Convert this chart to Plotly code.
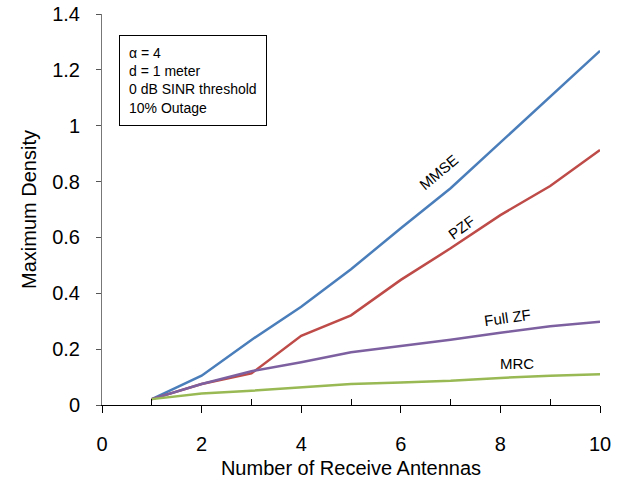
import plotly.graph_objects as go

antennas = [1, 2, 3, 4, 5, 6, 7, 8, 9, 10]
mmse = [0.021, 0.105, 0.233, 0.352, 0.486, 0.633, 0.776, 0.939, 1.104, 1.268]
pzf = [0.021, 0.075, 0.113, 0.248, 0.321, 0.448, 0.561, 0.680, 0.784, 0.913]
full_zf = [0.021, 0.075, 0.121, 0.153, 0.189, 0.211, 0.234, 0.259, 0.282, 0.298]
mrc = [0.021, 0.041, 0.051, 0.064, 0.075, 0.081, 0.087, 0.097, 0.105, 0.110]

series_names = ["MMSE", "PZF", "Full ZF", "MRC"]
series_values = [mmse, pzf, full_zf, mrc]
colors = ["#4A7EBB", "#BE4B48", "#7D60A0", "#98B954"]

x_ticks = [0, 2, 4, 6, 8, 10]
y_ticks = [0, 0.2, 0.4, 0.6, 0.8, 1, 1.2, 1.4]
y_tick_labels = ["0", "0.2", "0.4", "0.6", "0.8", "1", "1.2", "1.4"]

FONT = "Liberation Sans Narrow, Arial Narrow, Liberation Sans, Arial, sans-serif"

fig = go.Figure()
for name, vals, c in zip(series_names, series_values, colors):
    fig.add_trace(go.Scatter(x=antennas, y=vals, mode="lines", name=name,
                             line=dict(color=c, width=2.5), showlegend=False))

# curve labels (placement in data space)
labels = [
    ("MMSE", 6.75, 0.834, -40),
    ("PZF", 7.21, 0.637, -36),
    ("Full ZF", 8.15, 0.315, -8),
    ("MRC", 8.33, 0.147, 0),
]
for t, lx, ly, ang in labels:
    fig.add_annotation(x=lx, y=ly, xref="x", yref="y", text=t, showarrow=False,
                       textangle=ang, font=dict(size=15, color="black", family=FONT))

fig.add_annotation(
    xref="paper", yref="paper", x=0.034, y=0.947, xanchor="left", yanchor="top",
    text="α = 4<br>d = 1 meter<br>0 dB SINR threshold<br>10% Outage",
    align="left", showarrow=False, bordercolor="black", borderwidth=1, borderpad=9,
    bgcolor="white", font=dict(size=14, color="black", family=FONT),
)

fig.update_layout(
    width=644, height=487,
    margin=dict(l=102, r=44, t=14, b=82, autoexpand=False),
    paper_bgcolor="white", plot_bgcolor="white",
    font=dict(family=FONT, color="black"),
)
fig.update_xaxes(
    automargin=False, ticklabeloverflow="allow",
    range=[0, 10], tickvals=x_ticks, ticks="outside", ticklen=7, tickcolor="black",
    showline=True, linecolor="black", linewidth=1, showgrid=False, zeroline=False,
    tickfont=dict(size=20, family=FONT), ticklabelstandoff=14,
    minor=dict(tickvals=[1, 3, 5, 7, 9], ticks="inside", ticklen=6, tickcolor="black",
               showgrid=False),
    title=dict(text="Number of Receive Antennas", font=dict(size=20, family=FONT), standoff=6),
)
fig.update_yaxes(
    automargin=False, ticklabeloverflow="allow",
    range=[0, 1.4], tickvals=y_ticks, ticktext=y_tick_labels, ticks="outside", ticklen=5,
    tickcolor="#555", showline=True, linecolor="#777", linewidth=1, showgrid=False,
    zeroline=False, tickfont=dict(size=20, family=FONT), ticklabelstandoff=12,
    title=dict(text="Maximum Density", font=dict(size=20, family=FONT), standoff=10),
)

fig.write_html("out.html", config={"displayModeBar": False},
               post_script="document.body.style.margin='0';")
